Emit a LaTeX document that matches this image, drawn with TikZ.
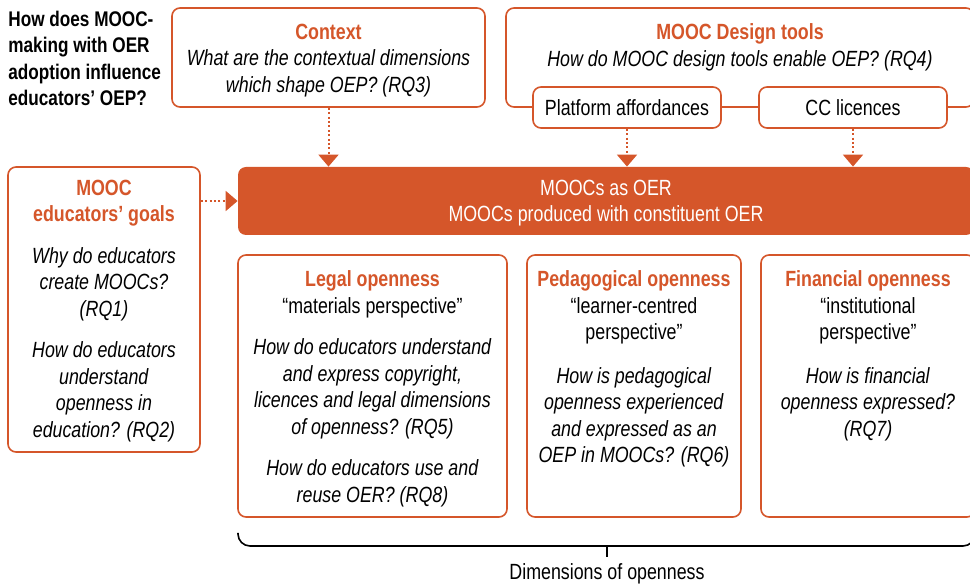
\documentclass[tikz,border=0pt]{standalone}
\usepackage{fontspec}
\setmainfont[FakeStretch=0.81]{Liberation Sans}
\usepackage{xcolor}
\usepackage{tikz}
\usetikzlibrary{arrows.meta,positioning,calc}
\definecolor{oerorange}{HTML}{D5562A}
\newcommand{\oerhead}[1]{\textcolor{oerorange}{\bfseries #1}}
\newcommand{\rqtext}[1]{\textit{#1}}

\begin{document}
\begin{tikzpicture}[
    x=0.5pt, y=-0.5pt,
    font=\fontsize{11}{13.25}\selectfont,
    box/.style={rectangle, rounded corners=4pt, draw=oerorange, line width=0.8pt, fill=white, inner sep=0pt, align=center},
    pill/.style={box, minimum width=94pt, minimum height=20.5pt},
    dimbox/.style={box, minimum width=107pt, minimum height=131pt},
    txt/.style={align=center, inner sep=0pt},
    dotarrow/.style={draw=oerorange, line width=1pt, dash pattern=on 1pt off 1.2pt, -{Triangle[width=10pt, length=6pt]}}
]
    \clip (0,0) rectangle (970,587);

    % Main question
    \node[anchor=north west, align=left, inner sep=0pt, font=\fontsize{10.6}{13.1}\selectfont\bfseries] (rq) at (8,11)
        {How does MOOC-\\making with OER\\adoption influence\\educators’ OEP?};

    % Context
    \node[box, minimum width=156.5pt, minimum height=49.5pt] (ctx) at (328.5,57.5) {};
    \node[txt, anchor=north] (ctxtxt) at (328.5,23.5) {
        \oerhead{Context}\\
        \rqtext{What are the contextual dimensions}\\
        \rqtext{which shape OEP? (RQ3)}
    };

    % MOOC design tools
    \node[box, minimum width=234pt, minimum height=49.5pt] (tools) at (740,57.5) {};
    \node[txt, anchor=north] (toolstxt) at (740,23.5) {
        \oerhead{MOOC Design tools}\\
        \rqtext{How do MOOC design tools enable OEP? (RQ4)}
    };
    \node[pill] (plat) at (627,107.5) {Platform affordances};
    \node[pill] (cc) at (853,107.5) {CC licences};

    % MOOCs as OER
    \node[rectangle, rounded corners=4pt, fill=oerorange, minimum width=368pt, minimum height=34pt] (bar) at (606,201) {};
    \node[txt, text=white, anchor=north] (bartxt) at (606,179.5) {
        MOOCs as OER\\
        MOOCs produced with constituent OER
    };

    % Educators' goals
    \node[box, minimum width=96pt, minimum height=142.5pt] (goals) at (104,309.5) {};
    \node[txt, anchor=north] (goalstxt) at (104,179.5) {
        \oerhead{MOOC}\\
        \oerhead{educators’ goals}\\[7.5pt]
        \rqtext{Why do educators}\\
        \rqtext{create MOOCs?}\\
        \rqtext{(RQ1)}\\[7.5pt]
        \rqtext{How do educators}\\
        \rqtext{understand}\\
        \rqtext{openness in}\\
        \rqtext{education? (RQ2)}
    };

    % Dimensions of openness
    \node[dimbox, minimum width=134.5pt] (legal) at (372.5,386) {};
    \node[dimbox] (peda) at (634,386) {};
    \node[dimbox] (fin) at (868,386) {};

    \node[txt, anchor=north, yshift=-8pt] (legaltxt) at (legal.north) {
        \oerhead{Legal openness}\\
        “materials perspective”\\[7.5pt]
        \rqtext{How do educators understand}\\
        \rqtext{and express copyright,}\\
        \rqtext{licences and legal dimensions}\\
        \rqtext{of openness? (RQ5)}\\[7.5pt]
        \rqtext{How do educators use and}\\
        \rqtext{reuse OER? (RQ8)}
    };
    \node[txt, anchor=north, yshift=-8pt] (pedatxt) at (peda.north) {
        \oerhead{Pedagogical openness}\\
        “learner-centred\\
        perspective”\\[8.5pt]
        \rqtext{How is pedagogical}\\
        \rqtext{openness experienced}\\
        \rqtext{and expressed as an}\\
        \rqtext{OEP in MOOCs? (RQ6)}
    };
    \node[txt, anchor=north, yshift=-8pt] (fintxt) at (fin.north) {
        \oerhead{Financial openness}\\
        “institutional\\
        perspective”\\[8.5pt]
        \rqtext{How is financial}\\
        \rqtext{openness expressed?}\\
        \rqtext{(RQ7)}
    };

    % Influences
    \draw[dotarrow] (ctx.south) -- (ctx.south |- bar.north);
    \draw[dotarrow] (plat.south) -- (plat.south |- bar.north);
    \draw[dotarrow] (cc.south) -- (cc.south |- bar.north);
    \draw[dotarrow] (goals.east |- bar.west) -- (bar.west);

    % Bracket
    \coordinate (bracemid) at (607,546);
    \draw[line width=0.8pt, rounded corners=6pt] (238,533) |- (bracemid) -| (975,533);
    \node[txt] (dimlbl) at (607,574) {Dimensions of openness};
    \draw[line width=0.8pt, shorten >=3pt] (bracemid) -- (dimlbl.north);
\end{tikzpicture}
\end{document}
